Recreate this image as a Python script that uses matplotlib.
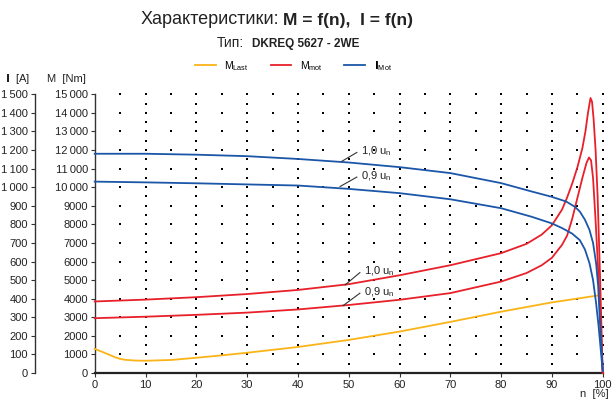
import numpy as np
import matplotlib
matplotlib.use("Agg")
import matplotlib.pyplot as plt
from matplotlib.lines import Line2D

plt.rcParams['font.family'] = ['Liberation Sans', 'DejaVu Sans']
plt.rcParams['mathtext.default'] = 'regular'

# --- data ---
# motor current I_Mot [A] at 1.0 u_n and 0.9 u_n
n_i10 = [0, 10, 20, 30, 40, 50, 60, 70, 80, 86, 90, 92.8, 94.5, 95.5, 96.5, 97.4, 98.1, 98.7, 99.1, 99.4, 99.7, 100]
i_10 = [1180, 1180, 1175, 1167, 1152, 1133, 1108, 1076, 1022, 977, 948, 923, 895, 869, 825, 770, 700, 591, 470, 303, 160, 20]
n_i09 = [0, 10, 20, 30, 40, 50, 60, 70, 80, 86, 90, 92, 94, 95.5, 96.5, 97.4, 98.1, 98.7, 99.2, 99.6, 100]
i_09 = [1030, 1026, 1021, 1015, 1009, 991, 968, 935, 887, 841, 805, 780, 750, 715, 665, 591, 500, 376, 250, 130, 10]

# motor torque M_mot [Nm]
n_m10 = [0, 10, 20, 30, 40, 50, 60, 70, 80, 85, 88, 90, 92, 93, 94, 95, 96, 96.6, 97.1, 97.6,
         97.9, 98.2, 98.6, 99.0, 99.5, 100]
m_10 = [3850, 3950, 4080, 4250, 4470, 4780, 5260, 5800, 6450, 6950, 7450, 7950, 8800, 9450, 10200, 11050, 12100,
        13000, 14000, 14800, 14600, 13700, 12000, 9500, 5000, 0]
n_m09 = [0, 10, 20, 30, 40, 50, 60, 70, 80, 85, 88, 90, 92, 93, 94, 95, 96, 96.8, 97.3,
         97.7, 98.1, 98.6, 99.1, 99.6, 100]
m_09 = [2950, 3030, 3130, 3250, 3420, 3660, 3940, 4300, 4920, 5380, 5800, 6200, 6900, 7400, 8300, 9400, 10500,
        11300, 11600, 11450, 10500, 8200, 5600, 2600, 0]

# load torque M_Last [Nm]
n_last = [0, 2, 4, 5, 6, 8, 10, 15, 20, 25, 30, 40, 50, 60, 70, 80, 90, 99]
m_last = [1300, 1080, 850, 760, 710, 670, 660, 700, 820, 950, 1090, 1400, 1780, 2230, 2750, 3300, 3800, 4170]

x_ticks = list(range(0, 101, 10))
m_ticks = list(range(0, 15001, 1000))
i_ticks = list(range(0, 1501, 100))

c_last = '#FBB417'
c_mot = '#E8202A'
c_imot = '#1B56A8'
dark = '#222222'


def fmt_num(v, limit):
    v = int(round(v))
    if v >= limit:
        return f"{v // 1000}\u2009{v % 1000:03d}"
    return str(v)


W, H = 613, 407
fig = plt.figure(figsize=(W / 100, H / 100), dpi=100)
ax = fig.add_axes([94.7 / W, (H - 373) / H, 508 / W, (373 - 94.3) / H])
ax.set_xlim(0, 100)
ax.set_ylim(0, 15000)

# dotted background grid
gx1, gy1 = np.meshgrid(np.arange(5, 100, 10), np.arange(1000, 15001, 1000))
gx2, gy2 = np.meshgrid(np.arange(10, 101, 10), np.arange(500, 15001, 500))
ax.scatter(gx1.ravel(), gy1.ravel(), s=2.2, marker='s', color='black', lw=0, zorder=1, clip_on=False)
ax.scatter(gx2.ravel(), gy2.ravel(), s=2.2, marker='s', color='black', lw=0, zorder=1, clip_on=False)

# curves (current drawn on torque scale, 1 A = 10 Nm)
lw = 1.3
ax.plot(n_last, m_last, color=c_last, lw=lw, zorder=3, clip_on=False)
ax.plot(n_m10, m_10, color=c_mot, lw=lw, zorder=3, clip_on=False)
ax.plot(n_m09, m_09, color=c_mot, lw=lw, zorder=3, clip_on=False)
ax.plot(n_i10, np.array(i_10) * 10, color=c_imot, lw=lw, zorder=3, clip_on=False)
ax.plot(n_i09, np.array(i_09) * 10, color=c_imot, lw=lw, zorder=3, clip_on=False)

# curve labels with leader lines
labels = [
    ('1,0 u$_n$', (48.6, 11385), (51.6, 11870)),
    ('0,9 u$_n$', (48.3, 10038), (51.6, 10544)),
    ('1,0 u$_n$', (49.3, 4741), (52.2, 5404)),
    ('0,9 u$_n$', (48.9, 3626), (52.2, 4294)),
]
for txt, p0, p1 in labels:
    ax.plot([p0[0], p1[0]], [p0[1], p1[1]], color='#333333', lw=0.8, zorder=4)
    ax.text(p1[0] + 0.8, p1[1] + 60, txt, fontsize=8, color=dark, va='center', ha='left', zorder=4)

# axes styling
for s in ['top', 'right']:
    ax.spines[s].set_visible(False)
ax.spines['left'].set_color('#333333')
ax.spines['left'].set_linewidth(1.0)
ax.spines['bottom'].set_color('#222222')
ax.spines['bottom'].set_linewidth(1.6)

ax.set_xticks(x_ticks)
ax.set_xticklabels([str(v) for v in x_ticks])
ax.set_yticks(m_ticks)
ax.set_yticklabels([fmt_num(v, 10000) for v in m_ticks])
ax.tick_params(axis='both', direction='out', length=3, width=0.8, colors='#333333',
               labelsize=8, labelcolor=dark, pad=2)

sec = ax.secondary_yaxis(-0.118, functions=(lambda m: m / 10, lambda i: i * 10))
sec.set_yticks(i_ticks)
sec.set_yticklabels([fmt_num(v, 1000) for v in i_ticks])
sec.spines['left'].set_color('#333333')
sec.spines['left'].set_linewidth(1.0)
sec.tick_params(axis='y', direction='out', length=3, width=0.8, colors='#333333',
                labelsize=8, labelcolor=dark, pad=2)

# axis captions
fig.text(5 / W, 1 - 79 / H, r'$\mathbf{I}$  [A]', fontsize=8, color=dark, va='center', ha='left')
fig.text(47 / W, 1 - 79 / H, 'M  [Nm]', fontsize=8, color=dark, va='center', ha='left')
fig.text(609 / W, 1 - 394 / H, 'n  [%]', fontsize=8, color=dark, va='center', ha='right')

# titles
fig.text(140.7 / W, 1 - 20 / H, 'Характеристики:', fontsize=13, color=dark, va='center', ha='left')
fig.text(283.3 / W, 1 - 20 / H, 'M = f(n),  I = f(n)', fontsize=12.5, fontweight='bold', color=dark,
         va='center', ha='left')
fig.text(217 / W, 1 - 43 / H, 'Тип:', fontsize=10, color=dark, va='center', ha='left')
fig.text(252 / W, 1 - 44 / H, 'DKREQ 5627 - 2WE', fontsize=8.5, fontweight='bold', color=dark,
         va='center', ha='left')

# legend
handles = [
    Line2D([], [], color=c_last, lw=1.3),
    Line2D([], [], color=c_mot, lw=1.3),
    Line2D([], [], color=c_imot, lw=1.3),
]
names = ['M$_{Last}$', 'M$_{mot}$', r'$\mathbf{I}_{Mot}$']
fig.legend(handles, names, loc='center', bbox_to_anchor=(293.4 / W, 1 - 65.7 / H), ncol=3,
           frameon=False, fontsize=7.5, handlelength=2.0, handletextpad=0.8, columnspacing=2.1)

fig.savefig('out.png', dpi=100)
